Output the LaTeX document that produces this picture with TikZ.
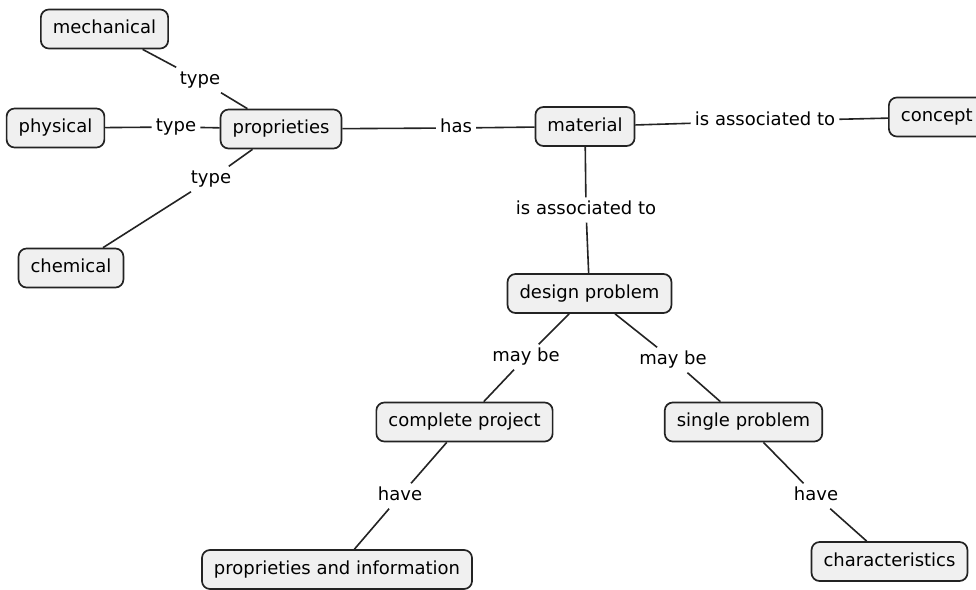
\documentclass[tikz,border=0pt]{standalone}
\usepackage{fontspec}
\setmainfont{DejaVu Sans}
\usepackage{xcolor}
\definecolor{cmapbg}{RGB}{240,240,240}
\definecolor{cmapline}{RGB}{35,35,35}
\usepackage{tikz}
\usetikzlibrary{positioning}

\tikzset{
  cbox/.style={draw=cmapline,line width=1.7pt,rounded corners=8pt,fill=cmapbg,
    minimum height=39pt,inner xsep=12pt,text height=13pt,text depth=4pt},
  lword/.style={inner sep=4pt,text height=13pt,text depth=4pt},
  link/.style={draw=cmapline,line width=1.6pt}
}

\begin{document}
\begin{tikzpicture}[x=1pt,y=-1pt,font=\fontsize{18}{21}\selectfont]
\useasboundingbox[fill=white] (0,0) rectangle (976,589);
% concepts
\node[cbox] (mech) at (104.5,29) {mechanical};
\node[cbox] (phys) at (55.5,128) {physical};
\node[cbox] (prop) at (281,129) {proprieties};
\node[cbox] (chem) at (71,268) {chemical};
\node[cbox] (mat) at (585,126.5) {material};
\node[cbox,anchor=west] (conc) at (888,117) {concept};
\node[cbox] (design) at (589.5,293.5) {design problem};
\node[cbox] (complete) at (464.5,422) {complete project};
\node[cbox] (single) at (743.5,422) {single problem};
\node[cbox] (propinfo) at (337,569.5) {proprieties and information};
\node[cbox] (charac) at (889.5,561.5) {characteristics};
% linking words
\node[lword] (typea) at (200,80) {type};
\node[lword] (typeb) at (176,127) {type};
\node[lword] (typec) at (211,179) {type};
\node[lword] (has) at (456,128) {has};
\node[lword] (assoca) at (765,121) {is associated to};
\node[lword] (assocb) at (586,210) {is associated to};
\node[lword] (maybea) at (526,357) {may be};
\node[lword] (maybeb) at (673,360) {may be};
\node[lword] (havea) at (400,496) {have};
\node[lword] (haveb) at (816,496) {have};
% links
\draw[link] (mech) -- (typea) -- (prop);
\draw[link] (phys) -- (typeb) -- (prop);
\draw[link] (prop) -- (typec) -- (chem);
\draw[link] (prop) -- (has) -- (mat);
\draw[link] (mat) -- (assoca) -- (conc);
\draw[link] (mat) -- (assocb) -- (design);
\draw[link] (design) -- (maybea) -- (complete);
\draw[link] (design) -- (maybeb) -- (single);
\draw[link] (complete) -- (havea) -- (propinfo);
\draw[link] (single) -- (haveb) -- (charac);
\end{tikzpicture}
\end{document}
